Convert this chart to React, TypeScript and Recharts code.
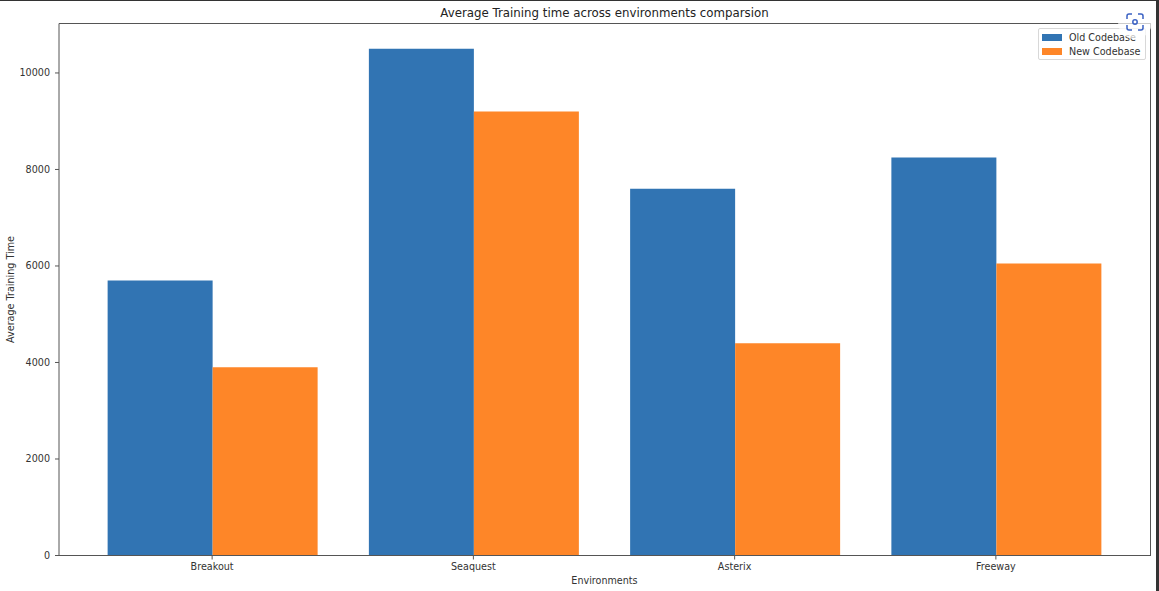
import { BarChart, Bar, XAxis, YAxis } from 'recharts';

const environments = ['Breakout', 'Seaquest', 'Asterix', 'Freeway'];
const oldCodebase = [5700, 10500, 7600, 8250];
const newCodebase = [3900, 9200, 4400, 6050];
const yTicks = [0, 2000, 4000, 6000, 8000, 10000];

const data = environments.map((name, i) => ({
  name,
  oldCodebase: oldCodebase[i],
  newCodebase: newCodebase[i],
}));

const FONT = '"DejaVu Sans", sans-serif';
const AXIS_COLOR = '#555555';
const TEXT_COLOR = '#333333';

function LegendBox() {
  const rows = [
    { label: 'Old Codebase', color: '#3174b3' },
    { label: 'New Codebase', color: '#fe8628' },
  ];
  return (
    <div
      style={{
        position: 'absolute',
        left: 1038,
        top: 28,
        width: 108,
        height: 32,
        boxSizing: 'border-box',
        padding: '1px 0 0 3px',
        background: 'rgba(255,255,255,0.85)',
        border: '1px solid #d8d8d8',
        borderRadius: 2,
        fontFamily: FONT,
        fontSize: 9.6,
        color: TEXT_COLOR,
      }}
    >
      {rows.map((row) => (
        <div key={row.label} style={{ display: 'flex', alignItems: 'center', height: 14.5 }}>
          <span style={{ width: 20, height: 7, background: row.color, marginRight: 7, flex: 'none' }} />
          <span style={{ whiteSpace: 'nowrap' }}>{row.label}</span>
        </div>
      ))}
    </div>
  );
}

function ScreenshotIcon() {
  return (
    <div style={{ position: 'absolute', left: 1118, top: 5, width: 34, height: 34, borderRadius: 17, background: 'rgba(255,255,255,0.7)' }}>
      <svg width="34" height="34" viewBox="4 4 34 34" fill="none" stroke="#3b62c4" strokeWidth="1.5">
        <path d="M13 18v-3a2 2 0 0 1 2-2h3M24 13h3a2 2 0 0 1 2 2v3M29 24v3a2 2 0 0 1-2 2h-3M18 29h-3a2 2 0 0 1-2-2v-3" />
        <circle cx="21" cy="21" r="2.200" />
      </svg>
    </div>
  );
}

export default function App() {
  return (
    <div style={{ position: 'absolute', left: 0, top: 0, width: 1159, height: 591, background: '#fff', overflow: 'hidden' }}>
      <div style={{ position: 'absolute', left: 0, top: 0, width: 1159, height: 1, background: '#333' }} />
      <div style={{ position: 'absolute', left: 1156, top: 0, width: 3, height: 591, background: '#333' }} />
      <div
        style={{
          position: 'absolute',
          left: 59,
          width: 1091,
          top: 6,
          textAlign: 'center',
          fontFamily: FONT,
          fontSize: 11.8,
          color: '#222',
        }}
      >
        Average Training time across environments comparsion
      </div>
      <BarChart
        width={1159}
        height={591}
        data={data}
        margin={{ top: 23.5, right: 9, bottom: 0, left: 0 }}
        barCategoryGap="10%"
        barGap={0}
      >
        <XAxis
          dataKey="name"
          height={35.5}
          padding={{ left: 22.5, right: 23.5 }}
          interval={0}
          tickSize={4}
          tickMargin={4}
          stroke={AXIS_COLOR}
          tick={{ fill: TEXT_COLOR, fontSize: 9.6, fontFamily: FONT }}
          label={{ value: 'Environments', position: 'insideBottom', offset: 7, fill: TEXT_COLOR, fontSize: 9.6, fontFamily: FONT }}
        />
        <YAxis
          width={59}
          domain={[0, 11025]}
          ticks={yTicks}
          tickSize={4}
          tickMargin={5}
          interval={0}
          stroke={AXIS_COLOR}
          tick={{ fill: TEXT_COLOR, fontSize: 9.6, fontFamily: FONT }}
          label={{ value: 'Average Training Time', angle: -90, position: 'insideLeft', offset: 11, style: { textAnchor: 'middle' }, fill: TEXT_COLOR, fontSize: 9.6, fontFamily: FONT }}
        />
        <Bar dataKey="oldCodebase" name="Old Codebase" fill="#3174b3" isAnimationActive={false} />
        <Bar dataKey="newCodebase" name="New Codebase" fill="#fe8628" isAnimationActive={false} />
      </BarChart>
      <div style={{ position: 'absolute', left: 59, top: 23, width: 1091, height: 1, background: AXIS_COLOR }} />
      <div style={{ position: 'absolute', left: 1150, top: 23, width: 1, height: 533, background: AXIS_COLOR }} />
      <LegendBox />
      <ScreenshotIcon />
    </div>
  );
}
